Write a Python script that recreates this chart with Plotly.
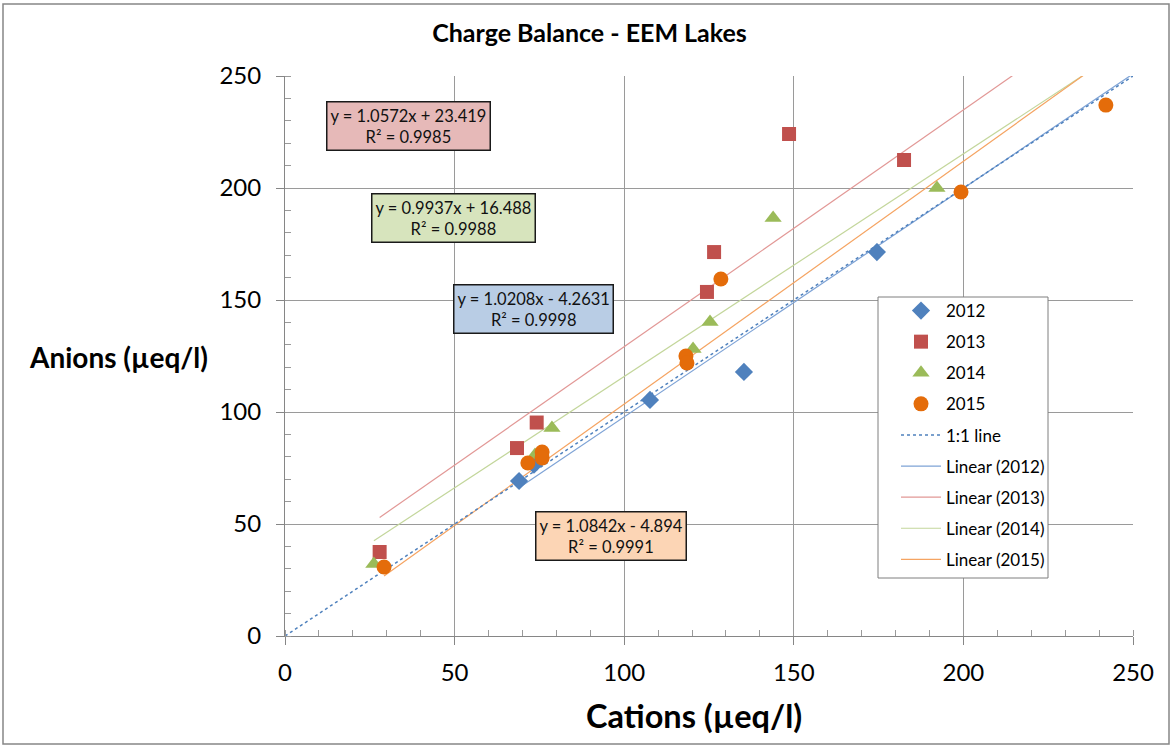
import plotly.graph_objects as go

# ---- data ----
x2012 = [69.0, 73.4, 107.6, 135.3, 174.5]
y2012 = [69.2, 76.5, 105.4, 117.9, 171.4]

x2013 = [27.9, 68.4, 74.2, 124.4, 126.5, 148.6, 182.5]
y2013 = [37.5, 83.9, 95.3, 153.6, 171.4, 224.1, 212.5]

x2014 = [26.2, 73.7, 78.7, 120.3, 125.3, 143.9, 192.2]
y2014 = [32.1, 80.8, 92.9, 128.1, 140.2, 186.6, 200.0]

x2015 = [29.2, 71.6, 75.8, 75.8, 118.2, 118.5, 128.5, 199.3, 242.0]
y2015 = [30.8, 77.2, 82.1, 79.5, 125.0, 121.9, 159.4, 198.2, 237.0]

years = ["2012", "2013", "2014", "2015"]
slopes = [1.0208, 1.0572, 0.9937, 1.0842]
intercepts = [-4.2631, 23.419, 16.488, -4.894]
r2 = [0.9998, 0.9985, 0.9988, 0.9991]
eq_text = ["y = 1.0208x - 4.2631", "y = 1.0572x + 23.419",
           "y = 0.9937x + 16.488", "y = 1.0842x - 4.894"]

one_to_one = [0, 250]
axis_max = 250
ticks = [0, 50, 100, 150, 200, 250]

FONT = "Lato, 'Open Sans', sans-serif"

marker_colors = ["#4f81bd", "#c0504d", "#9bbb59", "#e46c0a"]
line_colors = ["#7ea3d6", "#e29896", "#c3d69b", "#f5a462"]
box_fills = ["#b9cde5", "#e6b9b8", "#d7e4bd", "#fcd5b5"]
symbols = ["diamond", "square", "triangle-up", "circle"]
sizes = [14, 14, 15, 15]
# annotation centres in data units (layout only)
box_pos = [(73.4, 145.8), (36.3, 227.5), (49.8, 186.4), (96.0, 44.6)]

xs = [x2012, x2013, x2014, x2015]
ys = [y2012, y2013, y2014, y2015]

# plot-area pixel geometry (layout only)
L, T, PW, PH = 285, 76, 848, 560


def px(x):
    return (x - L) / PW


def py(y):
    return (T + PH - y) / PH


fig = go.Figure()

# trendlines first (drawn underneath)
for i, yr in enumerate(years):
    x0 = min(xs[i])
    xl = [x0, axis_max]
    yl = [slopes[i] * v + intercepts[i] for v in xl]
    fig.add_trace(go.Scatter(
        x=xl, y=yl, mode="lines", name=f"Linear ({yr})", legendgroup="l" + yr,
        legendrank=6 + i, line=dict(color=line_colors[i], width=1.2)))

fig.add_trace(go.Scatter(
    x=one_to_one, y=one_to_one, mode="lines", name="1:1 line", legendgroup="one",
    legendrank=5, line=dict(color="#4f81bd", width=1.5, dash="dot")))

for i, yr in enumerate(years):
    fig.add_trace(go.Scatter(
        x=xs[i], y=ys[i], mode="markers", name=yr, legendgroup="m" + yr,
        legendrank=1 + i,
        marker=dict(symbol=symbols[i], size=sizes[i], color=marker_colors[i],
                    line=dict(width=0))))

annotations = []
for i in range(4):
    annotations.append(dict(
        x=box_pos[i][0], y=box_pos[i][1], xref="x", yref="y",
        text=f"{eq_text[i]}<br>R² = {r2[i]:.4f}", showarrow=False,
        font=dict(family=FONT, size=16.5, color="#111"),
        bgcolor=box_fills[i], bordercolor="#1a1a1a", borderwidth=1.5,
        borderpad=3, align="center"))

annotations.append(dict(
    x=px(118), y=py(357), xref="paper", yref="paper", text="<b>Anions (µeq/l)</b>",
    showarrow=False, font=dict(family=FONT, size=28, color="#000"),
    xanchor="center", yanchor="middle"))
annotations.append(dict(
    x=px(694), y=py(715), xref="paper", yref="paper", text="<b>Cations (µeq/l)</b>",
    showarrow=False, font=dict(family=FONT, size=32.5, color="#000"),
    xanchor="center", yanchor="middle"))

axis_common = dict(
    range=[0, axis_max], tickvals=ticks, showgrid=True, gridcolor="#9a9a9a",
    gridwidth=1, zeroline=False, showline=True, linecolor="#868686", linewidth=1,
    ticks="outside", ticklen=8, tickcolor="#868686",
    tickfont=dict(family=FONT, size=24, color="#000"),
    minor=dict(dtick=10, ticks="inside", ticklen=6, tickcolor="#9a9a9a",
               showgrid=False),
    fixedrange=True)

fig.update_layout(
    width=1172, height=746,
    margin=dict(l=L, r=1172 - L - PW, t=T, b=746 - T - PH),
    paper_bgcolor="white", plot_bgcolor="white",
    title=dict(text="<b>Charge Balance - EEM Lakes</b>", x=0.503, y=0.956,
               xanchor="center", yanchor="middle",
               font=dict(family=FONT, size=25, color="#000")),
    xaxis=dict(**axis_common, ticklabelstandoff=7),
    yaxis=dict(**axis_common, ticklabelstandoff=10),
    showlegend=True,
    legend=dict(x=px(896), y=py(293), xanchor="left", yanchor="top",
                bgcolor="rgba(0,0,0,0)", borderwidth=0,
                font=dict(family=FONT, size=17, color="#000"),
                traceorder="grouped", tracegroupgap=6, itemwidth=40),
    annotations=annotations,
    shapes=[
        dict(type="rect", xref="paper", yref="paper",
             x0=px(3), x1=px(1169), y0=py(744), y1=py(4),
             line=dict(color="#868686", width=1.5), layer="below"),
        dict(type="rect", xref="paper", yref="paper",
             x0=px(878), x1=px(1048), y0=py(578), y1=py(297),
             fillcolor="white", line=dict(color="#7f7f7f", width=1), layer="above"),
    ],
)

fig.write_html("out.html", config={"displayModeBar": False},
               post_script="document.body.style.margin='0';document.body.style.padding='0';")
